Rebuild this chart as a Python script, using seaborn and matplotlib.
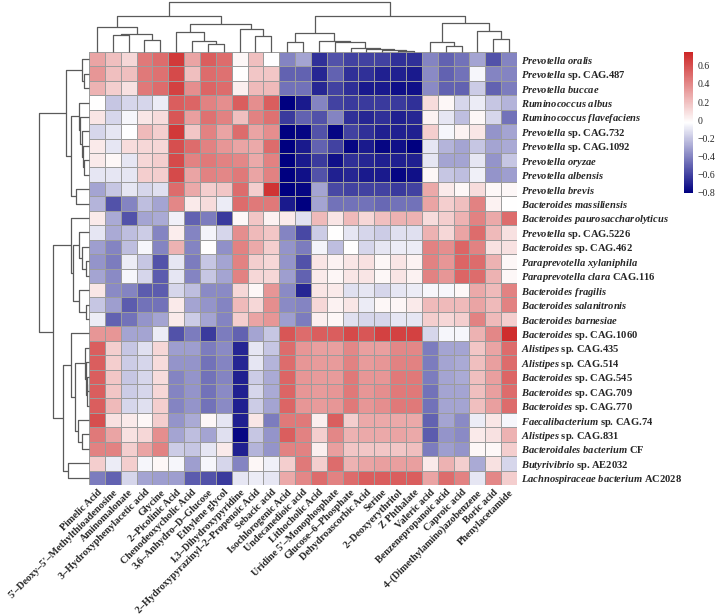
import matplotlib
matplotlib.use("Agg")
import matplotlib.pyplot as plt
import seaborn as sns
import numpy as np
import pandas as pd
from matplotlib.colors import LinearSegmentedColormap

# metabolites (columns, in dendrogram order)
metabolites = ["Pimelic Acid", "5'–Deoxy–5'–Methylthioadenosine", "Aminomalonate",
               "3–Hydroxyphenylacetic acid", "Glycine", "2–Picolinic Acid",
               "Chenodeoxycholic Acid", "3,6–Anhydro–D–Glucose", "Ethylene glycol",
               "1,3–Dihydroxypyridine", "2–Hydroxypyrazinyl–2–Propenoic Acid", "Sebacic acid",
               "Isochlorogenic Acid", "Undecanedioic acid", "Lithocholic Acid",
               "Uridine 5'–Monophosphate", "Glucose–6–Phosphate", "Dehydroascorbic Acid",
               "Serine", "2–Deoxyerythritol", "Z Phthalate", "Valeric acid",
               "Benzenepropanoic acid", "Caproic acid", "4–(Dimethylamino)azobenzene",
               "Boric acid", "Phenylacetamide"]

# species (rows): italic part, plain part
species = [("Prevotella oralis", ""), ("Prevotella", "sp. CAG.487"), ("Prevotella buccae", ""),
           ("Ruminococcus albus", ""), ("Ruminococcus flavefaciens", ""),
           ("Prevotella", "sp. CAG.732"), ("Prevotella", "sp. CAG.1092"),
           ("Prevotella oryzae", ""), ("Prevotella albensis", ""), ("Prevotella brevis", ""),
           ("Bacteroides massiliensis", ""), ("Bacteroides paurosaccharolyticus", ""),
           ("Prevotella", "sp. CAG.5226"), ("Bacteroides", "sp. CAG.462"),
           ("Paraprevotella xylaniphila", ""), ("Paraprevotella clara", "CAG.116"),
           ("Bacteroides fragilis", ""), ("Bacteroides salanitronis", ""),
           ("Bacteroides barnesiae", ""), ("Bacteroides", "sp. CAG.1060"),
           ("Alistipes", "sp. CAG.435"), ("Alistipes", "sp. CAG.514"),
           ("Bacteroides", "sp. CAG.545"), ("Bacteroides", "sp. CAG.709"),
           ("Bacteroides", "sp. CAG.770"), ("Faecalibacterium", "sp. CAG.74"),
           ("Alistipes", "sp. CAG.831"), ("Bacteroidales bacterium", "CF"),
           ("Butyrivibrio", "sp. AE2032"), ("Lachnospiraceae bacterium", "AC2028")]

# correlation values, one list per species row
corr_values = [
    [0.30, 0.20, 0.12, 0.45, 0.50, 0.68, 0.30, 0.55, 0.50, 0.00, 0.20, -0.03, -0.40, -0.30, -0.65, -0.55, -0.60, -0.60, -0.60, -0.65, -0.65, -0.40, -0.50, -0.45, -0.30, -0.55, -0.40],
    [0.35, 0.20, 0.20, 0.45, 0.48, 0.62, 0.20, 0.50, 0.48, -0.02, 0.18, 0.18, -0.50, -0.50, -0.68, -0.50, -0.65, -0.65, -0.70, -0.70, -0.72, -0.38, -0.50, -0.45, -0.05, -0.40, -0.40],
    [0.25, 0.15, 0.08, 0.45, 0.50, 0.65, 0.38, 0.52, 0.50, 0.03, 0.22, 0.22, -0.45, -0.45, -0.68, -0.60, -0.66, -0.72, -0.72, -0.75, -0.75, -0.38, -0.50, -0.50, -0.18, -0.50, -0.42],
    [-0.02, -0.20, -0.15, -0.15, -0.08, 0.55, 0.52, 0.42, 0.38, 0.55, 0.38, 0.55, -0.82, -0.72, -0.40, -0.60, -0.62, -0.62, -0.62, -0.62, -0.65, 0.10, 0.00, -0.15, -0.08, -0.20, -0.25],
    [0.07, -0.15, -0.05, 0.06, 0.10, 0.58, 0.32, 0.48, 0.42, 0.20, 0.42, 0.48, -0.62, -0.50, -0.55, -0.40, -0.65, -0.68, -0.65, -0.70, -0.68, 0.02, -0.10, -0.22, 0.00, -0.15, -0.45],
    [-0.15, -0.10, -0.03, 0.22, 0.15, 0.68, 0.18, 0.42, 0.30, 0.50, 0.30, 0.38, -0.82, -0.78, -0.55, -0.78, -0.60, -0.65, -0.70, -0.70, -0.70, 0.15, -0.05, 0.02, 0.06, -0.35, -0.30],
    [0.05, -0.10, 0.10, 0.12, 0.12, 0.60, 0.50, 0.42, 0.35, 0.30, 0.28, 0.50, -0.82, -0.72, -0.50, -0.60, -0.78, -0.72, -0.78, -0.75, -0.82, -0.10, -0.25, -0.30, -0.20, -0.30, -0.28],
    [0.05, 0.00, -0.10, 0.12, 0.15, 0.62, 0.42, 0.45, 0.42, 0.40, 0.28, 0.42, -0.82, -0.72, -0.62, -0.75, -0.65, -0.68, -0.70, -0.70, -0.70, -0.10, -0.30, -0.30, -0.10, -0.35, -0.20],
    [-0.10, -0.10, -0.10, 0.15, 0.15, 0.62, 0.30, 0.42, 0.40, 0.45, 0.30, 0.42, -0.82, -0.75, -0.55, -0.70, -0.68, -0.72, -0.72, -0.78, -0.75, 0.00, -0.20, -0.22, -0.07, -0.35, -0.32],
    [-0.30, -0.20, -0.10, -0.15, -0.12, 0.50, 0.28, 0.15, 0.18, 0.50, 0.15, 0.70, -0.82, -0.78, -0.30, -0.58, -0.60, -0.60, -0.60, -0.62, -0.60, 0.28, 0.05, 0.00, 0.10, 0.00, 0.00],
    [-0.25, -0.55, -0.40, -0.22, -0.30, 0.40, 0.05, 0.10, -0.08, 0.50, 0.45, 0.45, -0.72, -0.80, -0.30, -0.45, -0.45, -0.45, -0.48, -0.45, -0.45, 0.30, 0.15, 0.20, 0.42, 0.02, -0.02],
    [0.05, -0.28, -0.55, -0.30, -0.28, -0.07, -0.50, -0.42, -0.62, 0.00, 0.18, 0.02, 0.05, -0.12, 0.22, 0.07, 0.22, 0.12, 0.20, 0.25, 0.25, 0.10, 0.15, 0.25, 0.42, 0.28, 0.50],
    [-0.10, -0.28, -0.22, -0.18, -0.40, 0.04, -0.40, -0.06, -0.15, 0.38, 0.22, 0.18, -0.40, -0.58, -0.18, -0.02, -0.10, -0.15, -0.18, -0.12, -0.12, 0.25, 0.12, 0.30, 0.50, 0.22, 0.08],
    [-0.32, -0.40, -0.22, -0.05, -0.40, 0.25, -0.40, -0.02, -0.36, 0.42, 0.28, 0.15, -0.35, -0.42, -0.06, -0.22, -0.02, -0.15, -0.10, -0.08, -0.08, 0.42, 0.38, 0.52, 0.42, 0.08, 0.08],
    [-0.35, -0.42, -0.08, -0.20, -0.55, -0.10, -0.42, -0.20, -0.30, 0.42, 0.15, 0.12, -0.35, -0.55, 0.07, 0.02, 0.06, 0.08, 0.00, 0.07, 0.02, 0.42, 0.35, 0.52, 0.50, 0.25, 0.00],
    [-0.30, -0.38, -0.05, -0.15, -0.52, -0.10, -0.40, -0.20, -0.30, 0.42, 0.12, 0.12, -0.32, -0.50, 0.05, 0.01, 0.06, 0.07, 0.00, 0.07, 0.02, 0.42, 0.35, 0.52, 0.50, 0.25, 0.00],
    [0.06, -0.38, -0.40, -0.52, -0.52, -0.15, -0.22, -0.38, -0.38, 0.12, 0.00, 0.35, -0.38, -0.68, 0.07, 0.05, -0.12, -0.10, -0.15, -0.10, -0.08, -0.05, -0.05, 0.00, 0.28, 0.22, 0.42],
    [-0.20, -0.32, -0.52, -0.45, -0.45, 0.05, -0.30, -0.35, -0.40, 0.22, 0.12, 0.38, -0.38, -0.40, 0.12, 0.02, 0.06, -0.08, 0.00, 0.01, 0.05, 0.22, 0.22, 0.22, 0.30, 0.22, 0.42],
    [-0.08, -0.50, -0.45, -0.35, -0.30, 0.05, -0.18, -0.30, -0.40, 0.15, 0.30, 0.35, -0.32, -0.42, 0.03, 0.00, -0.12, -0.15, -0.15, -0.10, -0.10, 0.15, 0.12, 0.15, 0.42, 0.22, 0.15],
    [0.35, 0.35, -0.30, -0.30, -0.08, -0.55, -0.42, -0.62, -0.42, -0.50, -0.30, -0.20, 0.58, 0.50, 0.55, 0.55, 0.62, 0.58, 0.65, 0.65, 0.65, -0.15, -0.05, -0.05, 0.25, 0.40, 0.72],
    [0.55, 0.15, -0.20, -0.12, 0.12, -0.32, -0.32, -0.42, -0.38, -0.68, -0.10, -0.20, 0.50, 0.35, 0.32, 0.32, 0.40, 0.32, 0.32, 0.40, 0.40, -0.42, -0.30, -0.30, 0.18, 0.30, 0.50],
    [0.55, 0.15, -0.18, -0.15, 0.10, -0.35, -0.35, -0.45, -0.40, -0.68, -0.10, -0.25, 0.50, 0.35, 0.33, 0.33, 0.42, 0.33, 0.35, 0.42, 0.42, -0.42, -0.30, -0.28, 0.20, 0.32, 0.50],
    [0.55, 0.18, -0.20, -0.15, 0.10, -0.40, -0.35, -0.45, -0.40, -0.70, -0.18, -0.28, 0.52, 0.35, 0.33, 0.33, 0.45, 0.35, 0.35, 0.45, 0.45, -0.42, -0.30, -0.28, 0.20, 0.32, 0.52],
    [0.55, 0.18, -0.18, -0.15, 0.12, -0.40, -0.35, -0.45, -0.38, -0.70, -0.15, -0.28, 0.52, 0.35, 0.33, 0.35, 0.45, 0.35, 0.38, 0.45, 0.45, -0.45, -0.30, -0.30, 0.20, 0.32, 0.50],
    [0.55, 0.22, -0.15, -0.12, 0.15, -0.40, -0.35, -0.45, -0.38, -0.70, -0.18, -0.30, 0.52, 0.35, 0.33, 0.35, 0.45, 0.35, 0.38, 0.45, 0.45, -0.45, -0.30, -0.30, 0.20, 0.32, 0.50],
    [0.60, 0.08, 0.05, 0.00, 0.15, -0.35, -0.28, 0.00, -0.10, -0.70, 0.06, -0.42, 0.45, 0.45, 0.03, 0.55, 0.15, 0.28, 0.28, 0.28, 0.28, -0.50, -0.30, -0.38, -0.08, 0.06, -0.05],
    [0.45, 0.30, 0.08, 0.12, 0.38, -0.30, -0.22, -0.30, -0.12, -0.78, -0.20, -0.35, 0.55, 0.42, 0.15, 0.40, 0.25, 0.28, 0.28, 0.30, 0.28, -0.52, -0.35, -0.38, 0.05, 0.08, 0.25],
    [0.42, 0.42, 0.15, 0.30, 0.42, -0.18, -0.20, -0.10, 0.05, -0.70, -0.25, -0.35, 0.42, 0.42, 0.03, 0.32, 0.18, 0.18, 0.18, 0.18, 0.20, -0.42, -0.32, -0.35, 0.00, 0.00, 0.15],
    [0.15, -0.08, 0.15, -0.05, 0.00, -0.05, -0.32, -0.05, -0.15, -0.40, 0.00, -0.07, 0.15, 0.45, 0.15, 0.50, 0.25, 0.30, 0.32, 0.32, 0.32, 0.05, 0.25, 0.15, -0.28, 0.08, -0.15],
    [-0.42, -0.50, -0.15, -0.30, -0.32, -0.32, -0.52, -0.55, -0.62, -0.10, -0.08, -0.10, 0.28, 0.40, 0.50, 0.42, 0.50, 0.55, 0.55, 0.55, 0.55, 0.30, 0.50, 0.42, -0.10, 0.40, 0.15],
]

# dendrograms: (left, right, merge height), leaves are indices
col_tree = (((0, ((1, 2, 50), (3, 4, 35), 51), 72),
             ((5, (6, (7, 8, 22), 32), 58), (9, (10, 11, 45), 68), 80), 105),
            (((12, 13, 30), (14, (15, (16, (17, (18, (19, 20, 4), 7), 9), 12), 28), 32), 55),
             ((21, (22, 23, 18), 30), (24, (25, 26, 38), 62), 85), 105), 145)

row_tree = (((0, (1, 2, 15), 22),
             ((3, (4, (5, (6, (7, 8, 14), 17), 22), 27), 30), (9, 10, 40), 55), 69),
            ((11, ((12, (13, (14, 15, 9), 22), 29), (16, (17, 18, 9), 30), 47), 55),
             ((19, ((20, (21, ((22, 23, 5), 24, 7), 9), 12), (25, (26, 27, 22), 32), 42), 55),
              (28, 29, 64), 77), 107), 149)

sns.set_style("white")
plt.rcParams['font.family'] = ['Liberation Serif', 'DejaVu Serif']
plt.rcParams['mathtext.fontset'] = 'custom'
plt.rcParams['mathtext.it'] = 'Liberation Serif:italic:bold'
plt.rcParams['mathtext.rm'] = 'Liberation Serif:bold'

W, H = 715, 616
fig = plt.figure(figsize=(W / 100, H / 100), dpi=100)


def box(x0, y0, x1, y1):
    # pixel box (top-left origin) -> figure fraction rect
    return [x0 / W, 1 - y1 / H, (x1 - x0) / W, (y1 - y0) / H]


ax_heat = fig.add_axes(box(89, 52, 517, 485))
ax_top = fig.add_axes(box(89, 2, 517, 52))
ax_left = fig.add_axes(box(39, 52, 89, 485))
cax = fig.add_axes(box(684, 52, 693, 193))

df = pd.DataFrame(corr_values, columns=metabolites,
                  index=[a + " " + b for a, b in species])
cmap = LinearSegmentedColormap.from_list("nwf", ["navy", "white", "#CD2626"])

sns.heatmap(df, ax=ax_heat, cmap=cmap, vmin=-0.8, vmax=0.75, linewidths=0.6,
            linecolor="#9c9c9c", cbar_ax=cax, xticklabels=False, yticklabels=False)

ax_heat.set_xticks(np.arange(len(metabolites)) + 0.5)
ax_heat.set_xticklabels(metabolites, rotation=45, ha="right", va="top",
                        rotation_mode="anchor", fontsize=7.3, fontweight="bold")
ax_heat.set_yticks(np.arange(len(species)) + 0.5)
row_labels = []
for ital, plain in species:
    lab = r"$\mathit{" + ital.replace(" ", r"\ ") + "}$"
    if plain:
        lab += " " + plain
    row_labels.append(lab)
ax_heat.yaxis.tick_right()
ax_heat.set_yticklabels(row_labels, rotation=0, ha="left", fontsize=7.6, fontweight="bold")
ax_heat.tick_params(axis="both", length=0)
ax_heat.tick_params(axis="x", pad=2)
ax_heat.tick_params(axis="y", pad=3)
ax_heat.set_xlabel("")
ax_heat.set_ylabel("")

cbar = ax_heat.collections[0].colorbar
cbar.outline.set_visible(False)
ticks = [-0.8, -0.6, -0.4, -0.2, 0, 0.2, 0.4, 0.6]
cbar.set_ticks(ticks)
cbar.set_ticklabels([f"{t:g}".replace("-", "\u2212") for t in ticks])
cax.tick_params(length=0, labelsize=7, pad=3)


def draw_tree(ax, tree, vertical_leaves):
    def walk(n):
        if isinstance(n, int):
            return n + 0.5, 0.0
        left, right, h = n
        p1, h1 = walk(left)
        p2, h2 = walk(right)
        pos = [p1, p1, p2, p2]
        hts = [h1, h, h, h2]
        if vertical_leaves:
            ax.plot(hts, pos, color="#5a5a5a", lw=0.9, clip_on=False, solid_capstyle="butt")
        else:
            ax.plot(pos, hts, color="#5a5a5a", lw=0.9, clip_on=False, solid_capstyle="butt")
        return (p1 + p2) / 2, h
    walk(tree)
    ax.set_axis_off()


draw_tree(ax_top, col_tree, False)
ax_top.set_xlim(0, len(metabolites))
ax_top.set_ylim(0, col_tree[2])

draw_tree(ax_left, row_tree, True)
ax_left.set_ylim(len(species), 0)
ax_left.set_xlim(row_tree[2], 0)

fig.savefig("out.png", dpi=100)
